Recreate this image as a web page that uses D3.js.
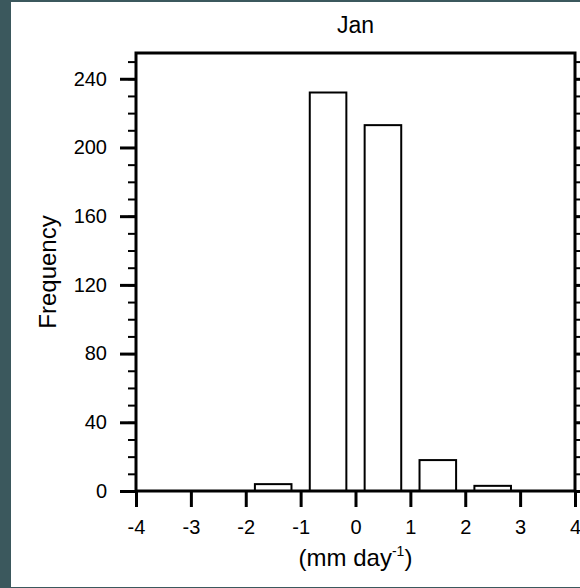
<!DOCTYPE html>
<html>
<head>
<meta charset="utf-8">
<script src="https://cdn.jsdelivr.net/npm/d3@7"></script>
<style>
  body { margin: 0; background: #3b585d; }
  text { font-family: "Liberation Sans", Arial, Helvetica, sans-serif; fill: #000; }
</style>
</head>
<body>
<div id="chart"></div>
<script>
// histogram of Jan values, bins of width 1
const binStarts = [-4, -3, -2, -1, 0, 1, 2, 3];
const counts = [0, 0, 4, 232, 213, 18, 3, 0];
const xTicks = [-4, -3, -2, -1, 0, 1, 2, 3, 4];
const yTicks = [0, 40, 80, 120, 160, 200, 240];
const yMinor = d3.range(0, 251, 10);

const W = 580, H = 588;
const plotL = 136, plotR = 575, plotT = 53, plotB = 491;

const svg = d3.select("#chart")
  .append("svg")
  .attr("width", W)
  .attr("height", H)
  .style("display", "block");

svg.append("rect").attr("width", W).attr("height", H).attr("fill", "#3b585d");
svg.append("rect")
  .attr("x", 11).attr("y", 2)
  .attr("width", W - 11).attr("height", 585)
  .attr("fill", "#fff");

const x = d3.scaleLinear().domain([-4, 4]).range([plotL, plotR]);
const y = d3.scaleLinear().domain([0, 255]).range([plotB, plotT]);

// bars, 2/3 of the bin width
const barW = 2 / 3;
svg.append("g")
  .selectAll("rect")
  .data(binStarts.map((b, i) => ({ b, c: counts[i] })).filter(d => d.c > 0))
  .join("rect")
  .attr("x", d => x(d.b + (1 - barW) / 2))
  .attr("width", d => x(d.b + (1 + barW) / 2) - x(d.b + (1 - barW) / 2))
  .attr("y", d => y(d.c))
  .attr("height", d => y(0) - y(d.c))
  .attr("fill", "#fff")
  .attr("stroke", "#000")
  .attr("stroke-width", 2);

function style(g, w) {
  g.select(".domain").remove();
  g.selectAll(".tick line").attr("stroke", "#000").attr("stroke-width", w);
  g.selectAll(".tick text").attr("font-size", 20);
}

// plain hyphen for negatives, like the original
const fmt = d => String(d);

// minor ticks, left and right
svg.append("g")
  .attr("transform", `translate(${plotL},0)`)
  .call(d3.axisLeft(y).tickValues(yMinor).tickSize(8).tickFormat(""))
  .call(g => style(g, 2));
svg.append("g")
  .attr("transform", `translate(${plotR},0)`)
  .call(d3.axisRight(y).tickValues(yMinor).tickSize(8).tickFormat(""))
  .call(g => style(g, 2));

// major ticks
svg.append("g")
  .attr("transform", `translate(${plotL},0)`)
  .call(d3.axisLeft(y).tickValues(yTicks).tickSize(16).tickPadding(13).tickFormat(fmt))
  .call(g => style(g, 3));
svg.append("g")
  .attr("transform", `translate(${plotR},0)`)
  .call(d3.axisRight(y).tickValues(yTicks).tickSize(16).tickFormat(""))
  .call(g => style(g, 3));
svg.append("g")
  .attr("transform", `translate(0,${plotB})`)
  .call(d3.axisBottom(x).tickValues(xTicks).tickSize(16).tickPadding(13).tickFormat(fmt))
  .call(g => style(g, 3));

// frame
svg.append("rect")
  .attr("x", plotL).attr("y", plotT)
  .attr("width", plotR - plotL).attr("height", plotB - plotT)
  .attr("fill", "none")
  .attr("stroke", "#000")
  .attr("stroke-width", 3);

svg.append("text")
  .attr("x", (plotL + plotR) / 2).attr("y", 33)
  .attr("text-anchor", "middle")
  .attr("font-size", 23)
  .text("Jan");

svg.append("text")
  .attr("transform", `translate(56,${(plotT + plotB) / 2}) rotate(-90)`)
  .attr("text-anchor", "middle")
  .attr("font-size", 24)
  .text("Frequency");

const xl = svg.append("text")
  .attr("x", (plotL + plotR) / 2).attr("y", 566)
  .attr("text-anchor", "middle")
  .attr("font-size", 24);
xl.append("tspan").text("(mm day");
xl.append("tspan").attr("font-size", 14).attr("dy", -10).text("-1");
xl.append("tspan").attr("dy", 10).text(")");
</script>
</body>
</html>
